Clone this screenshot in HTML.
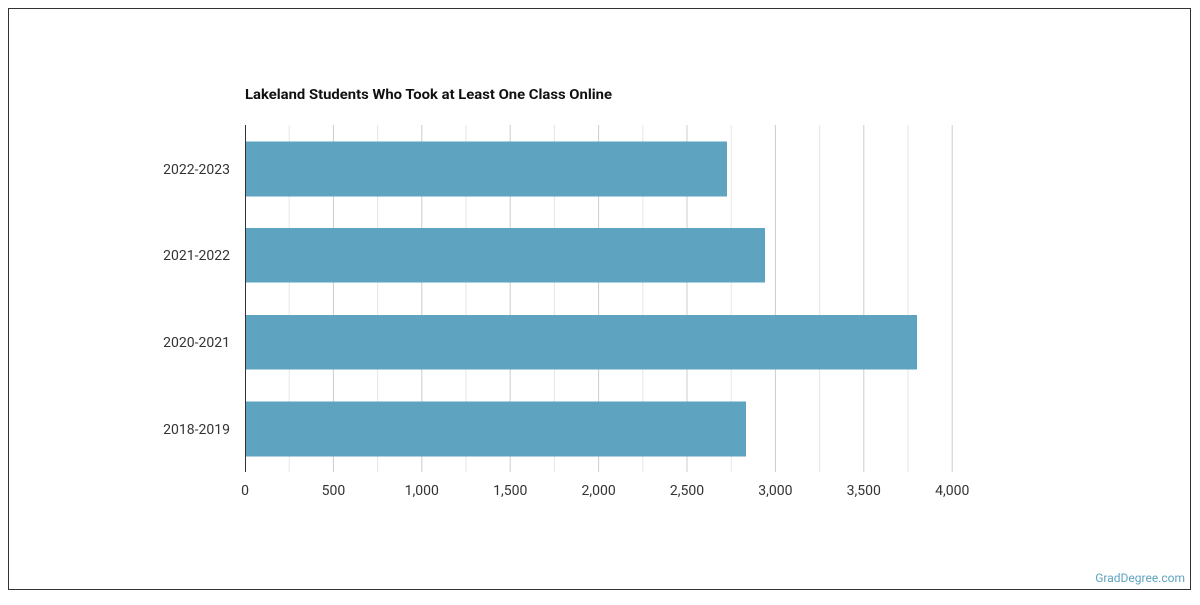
<!DOCTYPE html>
<html><head><style>
body{margin:0;background:#fff;}
</style></head><body>
<svg width="1200" height="600" xmlns="http://www.w3.org/2000/svg" font-family="Roboto, 'Liberation Sans', sans-serif">
<rect x="8.5" y="8.5" width="1182" height="581" fill="#fff" stroke="#333" stroke-width="1"/>
<text x="245" y="99" font-size="14" font-weight="bold" fill="#111" textLength="367" lengthAdjust="spacingAndGlyphs">Lakeland Students Who Took at Least One Class Online</text>
<g stroke-width="1">
<line x1="289.2" y1="125" x2="289.2" y2="472" stroke="#e6e6e6"/>
<line x1="333.4" y1="125" x2="333.4" y2="472" stroke="#ccc"/>
<line x1="377.6" y1="125" x2="377.6" y2="472" stroke="#e6e6e6"/>
<line x1="421.8" y1="125" x2="421.8" y2="472" stroke="#ccc"/>
<line x1="466" y1="125" x2="466" y2="472" stroke="#e6e6e6"/>
<line x1="510.2" y1="125" x2="510.2" y2="472" stroke="#ccc"/>
<line x1="554.4" y1="125" x2="554.4" y2="472" stroke="#e6e6e6"/>
<line x1="598.6" y1="125" x2="598.6" y2="472" stroke="#ccc"/>
<line x1="642.8" y1="125" x2="642.8" y2="472" stroke="#e6e6e6"/>
<line x1="687" y1="125" x2="687" y2="472" stroke="#ccc"/>
<line x1="731.2" y1="125" x2="731.2" y2="472" stroke="#e6e6e6"/>
<line x1="775.4" y1="125" x2="775.4" y2="472" stroke="#ccc"/>
<line x1="819.6" y1="125" x2="819.6" y2="472" stroke="#e6e6e6"/>
<line x1="863.8" y1="125" x2="863.8" y2="472" stroke="#ccc"/>
<line x1="908" y1="125" x2="908" y2="472" stroke="#e6e6e6"/>
<line x1="952.2" y1="125" x2="952.2" y2="472" stroke="#ccc"/>
</g>
<g fill="#5ea3bf">
<rect x="245" y="141.5" width="482" height="55"/>
<rect x="245" y="228" width="520" height="54.5"/>
<rect x="245" y="315" width="672" height="54.5"/>
<rect x="245" y="401.5" width="501" height="55"/>
</g>
<line x1="245.5" y1="125" x2="245.5" y2="472" stroke="#333" stroke-width="1"/>
<g font-size="14" fill="#333" text-anchor="end">
<text x="230" y="174">2022-2023</text>
<text x="230" y="260">2021-2022</text>
<text x="230" y="347">2020-2021</text>
<text x="230" y="434">2018-2019</text>
</g>
<g font-size="14" fill="#333" text-anchor="middle">
<text x="245" y="495">0</text>
<text x="333.4" y="495">500</text>
<text x="421.8" y="495">1,000</text>
<text x="510.2" y="495">1,500</text>
<text x="598.6" y="495">2,000</text>
<text x="687" y="495">2,500</text>
<text x="775.4" y="495">3,000</text>
<text x="863.8" y="495">3,500</text>
<text x="952.2" y="495">4,000</text>
</g>
<text x="1185" y="582" font-size="12" fill="#5ea3bf" text-anchor="end">GradDegree.com</text>
</svg>
</body></html>
